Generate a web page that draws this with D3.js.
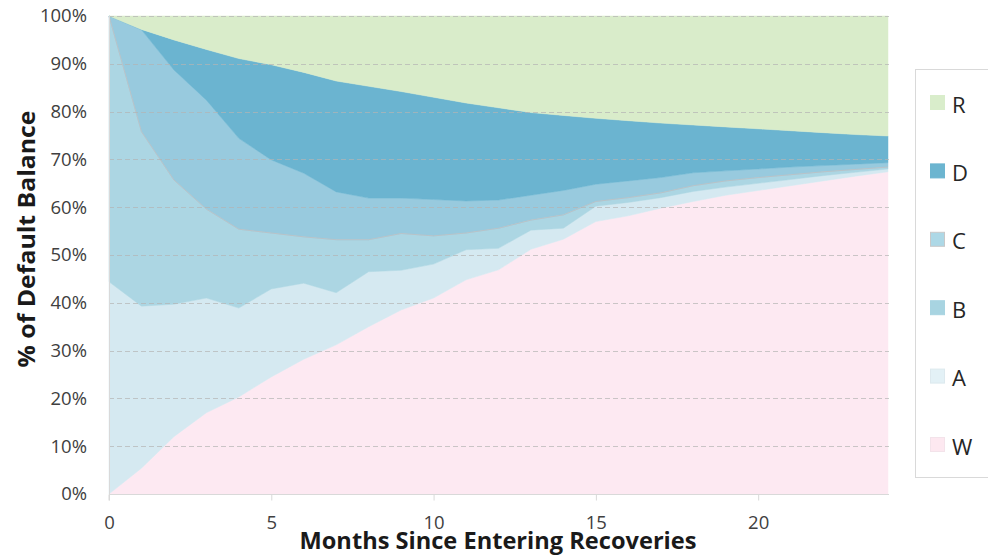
<!DOCTYPE html>
<html>
<head>
<meta charset="utf-8">
<script src="https://cdn.jsdelivr.net/npm/d3@7"></script>
<style>
  html, body { margin: 0; padding: 0; background: #ffffff; }
  svg { display: block; }
  text { font-family: "Open Sans", "Noto Sans", sans-serif; fill: #404040; }
</style>
</head>
<body>
<svg id="chart" width="988" height="555"></svg>
<script>
// ---- data (fractions of default balance, stacked bottom→top: W, A, B, C, D, R) ----
const months = [0,1,2,3,4,5,6,7,8,9,10,11,12,13,14,15,16,17,18,19,20,21,22,23,24];
const seriesW = [0.000,0.054,0.120,0.170,0.203,0.245,0.282,0.312,0.350,0.385,0.410,0.448,0.469,0.512,0.533,0.570,0.582,0.598,0.612,0.625,0.635,0.645,0.655,0.665,0.674];
const seriesA = [0.444,0.339,0.277,0.240,0.186,0.184,0.159,0.109,0.115,0.083,0.071,0.063,0.045,0.040,0.023,0.032,0.028,0.022,0.021,0.017,0.015,0.013,0.011,0.008,0.006];
const seriesB = [0.556,0.365,0.260,0.186,0.165,0.117,0.097,0.111,0.067,0.077,0.059,0.035,0.042,0.021,0.028,0.010,0.010,0.010,0.012,0.013,0.012,0.010,0.008,0.006,0.004];
const seriesC = [0.000,0.213,0.230,0.228,0.190,0.153,0.133,0.100,0.087,0.074,0.076,0.067,0.059,0.052,0.051,0.036,0.035,0.032,0.027,0.021,0.018,0.016,0.013,0.011,0.009];
const seriesD = [0.000,0.001,0.063,0.106,0.167,0.199,0.211,0.232,0.234,0.223,0.214,0.205,0.193,0.173,0.157,0.138,0.126,0.114,0.100,0.092,0.084,0.076,0.069,0.062,0.056];
const seriesR = [0.000,0.028,0.050,0.070,0.089,0.102,0.118,0.136,0.147,0.158,0.170,0.182,0.192,0.202,0.208,0.214,0.219,0.224,0.228,0.232,0.236,0.240,0.244,0.248,0.251];
const seriesKeys = ["W","A","B","C","D","R"];
const legendOrder = ["R","D","C","B","A","W"];
const xTicks = [0,5,10,15,20];
const yTicks = [0,0.1,0.2,0.3,0.4,0.5,0.6,0.7,0.8,0.9,1.0];
const xTitle = "Months Since Entering Recoveries";
const yTitle = "% of Default Balance";

// ---- styles ----
const areaColors = { W:"#fde9f2", A:"#d5e9f1", B:"#acd6e3", C:"#98cade", D:"#6bb4d0", R:"#d9ecca" };
const legendColors = { W:"#fde8f0", A:"#e3f1f6", B:"#a8d4e1", C:"#add8e6", D:"#6cb5d0", R:"#d9edcb" };
const legendStroke = { W:"#f3e3ea", A:"#dde9ee", B:"#a8d4e1", C:"#c8c8c8", D:"#6cb5d0", R:"#d9edcb" };

const seriesMap = { W: seriesW, A: seriesA, B: seriesB, C: seriesC, D: seriesD, R: seriesR };
const table = months.map((m, i) => {
  const row = { month: m };
  seriesKeys.forEach(k => row[k] = seriesMap[k][i]);
  return row;
});

const svg = d3.select("#chart");
const plot = { left: 109, right: 888, top: 16, bottom: 494 };

const x = d3.scaleLinear().domain([0, 24]).range([plot.left, plot.right]);
const y = d3.scaleLinear().domain([0, 1]).range([plot.bottom, plot.top]);

const stacked = d3.stack().keys(seriesKeys)(table);

const area = d3.area()
  .x(d => x(d.data.month))
  .y0(d => y(d[0]))
  .y1(d => y(d[1]));

svg.append("g").selectAll("path")
  .data(stacked)
  .join("path")
  .attr("d", area)
  .attr("fill", d => areaColors[d.key])
  .attr("stroke", d => areaColors[d.key])
  .attr("stroke-width", 0.5);

// grey outline along the lower edge of series C
const cLayer = stacked.find(s => s.key === "C");
svg.append("path")
  .datum(cLayer)
  .attr("d", d3.line().x(d => x(d.data.month)).y(d => y(d[0])))
  .attr("fill", "none")
  .attr("stroke", "#b9c3c8")
  .attr("stroke-width", 1);

// gridlines (dashed) on top
svg.append("g").selectAll("line")
  .data(yTicks.filter(t => t > 0))
  .join("line")
  .attr("x1", plot.left).attr("x2", plot.right + 1)
  .attr("y1", d => Math.round(y(d)) + 0.5).attr("y2", d => Math.round(y(d)) + 0.5)
  .attr("stroke", "#b4b4b4")
  .attr("stroke-opacity", 0.7)
  .attr("stroke-width", 1)
  .attr("stroke-dasharray", "5,3");

// y axis line
svg.append("line")
  .attr("x1", plot.left + 0.5).attr("x2", plot.left + 0.5)
  .attr("y1", plot.top).attr("y2", plot.bottom)
  .attr("stroke", "#d9d9d9");

// x axis
const xAxis = d3.axisBottom(x).tickValues(xTicks).tickSize(6).tickFormat(d3.format("d"));
const gx = svg.append("g")
  .attr("transform", `translate(0,${plot.bottom + 0.5})`)
  .call(xAxis);
gx.select(".domain").attr("stroke", "#d9d9d9").attr("d", `M${plot.left},6V0H${plot.right + 1}`);
gx.selectAll(".tick line").attr("stroke", "#d9d9d9");
gx.selectAll(".tick text")
  .attr("y", 21)
  .attr("font-size", 18.5)
  .attr("font-family", "Open Sans, sans-serif")
  .attr("fill", "#404040");

// y axis labels
const gy = svg.append("g")
  .attr("transform", `translate(${plot.left},0)`)
  .call(d3.axisLeft(y).tickValues(yTicks).tickSize(0).tickPadding(22).tickFormat(d3.format(".0%")));
gy.select(".domain").remove();
gy.selectAll(".tick text")
  .attr("font-size", 18.5)
  .attr("font-family", "Open Sans, sans-serif")
  .attr("fill", "#404040");

// axis titles
svg.append("text")
  .attr("x", 498).attr("y", 549)
  .attr("text-anchor", "middle")
  .attr("font-size", 23).attr("font-weight", "bold")
  .attr("textLength", 397).attr("lengthAdjust", "spacingAndGlyphs")
  .style("fill", "#1a1a1a")
  .text(xTitle);

svg.append("text")
  .attr("transform", "translate(35,239) rotate(-90)")
  .attr("text-anchor", "middle")
  .attr("font-size", 24).attr("font-weight", "bold")
  .attr("textLength", 257).attr("lengthAdjust", "spacingAndGlyphs")
  .style("fill", "#1a1a1a")
  .text(yTitle);

// legend
svg.append("rect")
  .attr("x", 915.5).attr("y", 69.5)
  .attr("width", 90).attr("height", 408)
  .attr("fill", "#ffffff")
  .attr("stroke", "#d9d9d9");

const lg = svg.append("g").selectAll("g")
  .data(legendOrder)
  .join("g")
  .attr("transform", (d, i) => `translate(930,${102.5 + i * 68.4})`);
lg.append("rect")
  .attr("x", 0.5).attr("y", -7)
  .attr("width", 14).attr("height", 14)
  .attr("fill", d => legendColors[d])
  .attr("stroke", d => legendStroke[d]);
lg.append("text")
  .attr("x", 22).attr("y", 10)
  .attr("font-size", 22)
  .style("fill", "#262626")
  .text(d => d);
</script>
</body>
</html>
